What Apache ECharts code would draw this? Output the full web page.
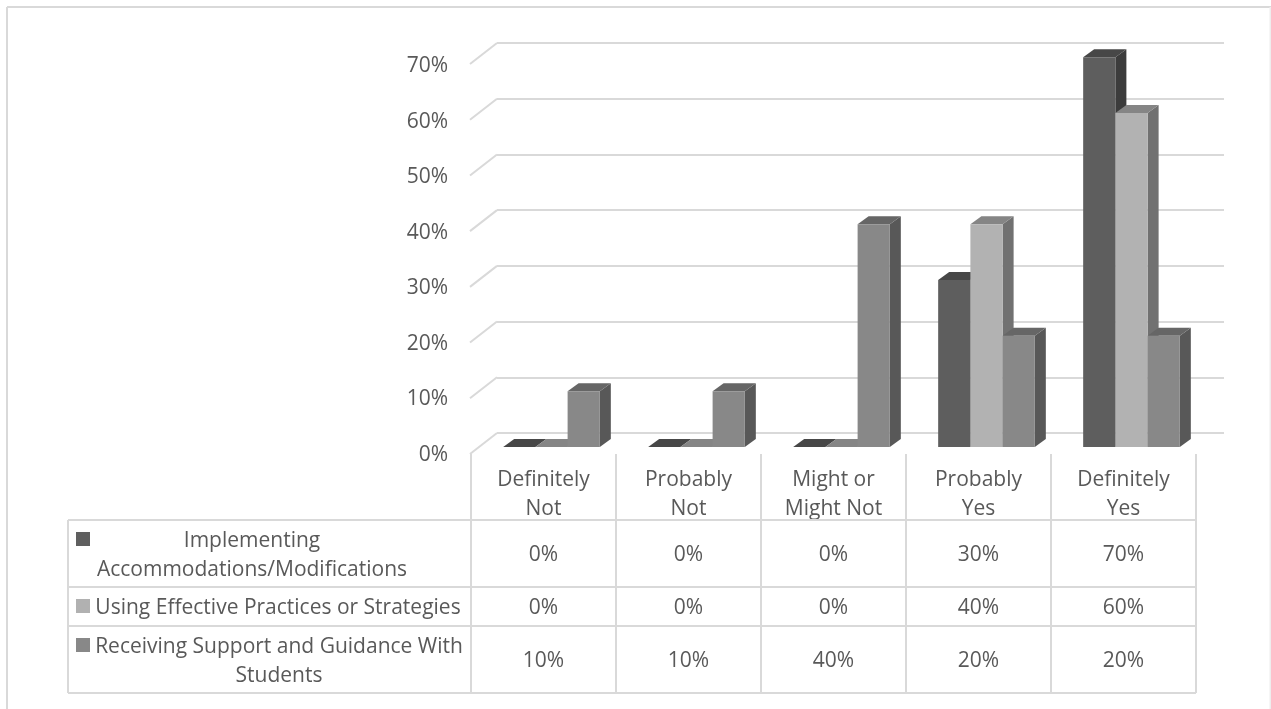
<!DOCTYPE html>
<html>
<head>
<meta charset="utf-8">
<style>html,body{margin:0;padding:0;background:#fff}#chart{width:1271px;height:709px}</style>
<script src="https://cdn.jsdelivr.net/npm/echarts@6/dist/echarts.min.js"></script>
</head>
<body>
<div id="chart"></div>
<script>
// Survey responses per statement, in percent.
const categories = ['Definitely\nNot', 'Probably\nNot', 'Might or\nMight Not', 'Probably\nYes', 'Definitely\nYes'];
const implementing = [0, 0, 0, 30, 70];
const usingPractices = [0, 0, 0, 40, 60];
const receivingSupport = [10, 10, 40, 20, 20];
const ticks = [0, 10, 20, 30, 40, 50, 60, 70];

const seriesRows = [
  { label: ['Implementing', 'Accommodations/Modifications'], labelX: 252, values: implementing,
    key: '#5f5f5f', front: '#5e5e5e', side: '#3c3c3c', top: '#474747' },
  { label: ['Using Effective Practices or Strategies'], labelX: 278, values: usingPractices,
    key: '#b1b1b1', front: '#b2b2b2', side: '#717171', top: '#858585' },
  { label: ['Receiving Support and Guidance With', 'Students'], labelX: 279, values: receivingSupport,
    key: '#888888', front: '#888888', side: '#585858', top: '#666666' }
];

const FONT = '"Open Sans", sans-serif';
const FONT_SIZE = 21;
const TEXT = '#595959';
const RULE = '#d9d9d9';
const DEPTH_X = 11, DEPTH_Y = 8;       // extrusion of each bar
const WALL_X = 27, WALL_Y = 21;        // side wall of the plot box

// Three-faced column: front, right side and top.
function barRenderer(row, seriesIndex) {
  return function (params, api) {
    const band = api.size([1, 0])[0];
    const w = band / 4.5;
    const cat = api.value(0);
    const top = api.coord([cat, api.value(1)]);
    const base = api.coord([cat, 0]);
    const x = top[0] - 1.5 * w + seriesIndex * w;
    const yT = top[1], yB = base[1];
    const children = [];
    children.push({ type: 'polygon', shape: { points: [
      [x + w, yT], [x + w + DEPTH_X, yT - DEPTH_Y], [x + w + DEPTH_X, yB - DEPTH_Y], [x + w, yB]
    ] }, style: { fill: row.side } });
    children.push({ type: 'polygon', shape: { points: [
      [x, yT], [x + DEPTH_X, yT - DEPTH_Y], [x + w + DEPTH_X, yT - DEPTH_Y], [x + w, yT]
    ] }, style: { fill: row.top } });
    if (yB - yT > 0) {
      children.push({ type: 'rect', shape: { x: x, y: yT, width: w, height: yB - yT },
        style: { fill: row.front } });
    }
    return { type: 'group', children: children };
  };
}

// Diagonal gridline running from the back wall towards the value labels.
function wallRenderer(params, api) {
  const p = api.coord([0, api.value(0)]);
  return { type: 'line',
    shape: { x1: p[0], y1: p[1], x2: p[0] - WALL_X, y2: p[1] + WALL_Y },
    style: { stroke: RULE, lineWidth: 2 } };
}

// Table geometry
const colEdges = [471, 616, 761, 906, 1051, 1196];
const tableLeft = 68;
const tableTop = 520;
const rowEdges = [520, 587, 626, 693];
const headerTop = 454;
const rowLineHeight = 29;
const textDrop = 2;                    // optical centring of text inside a cell

const graphics = [];
function rule(x1, y1, x2, y2, color) {
  graphics.push({ type: 'line', silent: true, z: 1,
    shape: { x1: x1, y1: y1, x2: x2, y2: y2 },
    style: { stroke: color || RULE, lineWidth: 2 } });
}
function label(text, x, y, align) {
  graphics.push({ type: 'text', silent: true, z: 3, x: x, y: y + textDrop,
    style: { text: text, fill: TEXT, font: FONT_SIZE + 'px ' + FONT, textAlign: align, textVerticalAlign: 'middle' } });
}

// Outer frame: open along the bottom edge, faint on the right
rule(7, 7, 1271, 7);
rule(7, 7, 7, 709);
rule(1270.5, 7, 1270.5, 709, '#eeeeee');

rowEdges.forEach(function (y) { rule(tableLeft, y, colEdges[5], y); });
rule(tableLeft, tableTop, tableLeft, rowEdges[3]);
colEdges.forEach(function (x) { rule(x, headerTop, x, rowEdges[3]); });

seriesRows.forEach(function (row, r) {
  const mid = (rowEdges[r] + rowEdges[r + 1]) / 2;
  graphics.push({ type: 'rect', silent: true, z: 3,
    shape: { x: 76, y: row.label.length > 1 ? rowEdges[r] + 12 : mid - 7.5, width: 14, height: 14 },
    style: { fill: row.key } });
  const startY = mid - (row.label.length - 1) * rowLineHeight / 2;
  row.label.forEach(function (line, i) {
    label(line, row.labelX, startY + i * rowLineHeight, 'center');
  });
  row.values.forEach(function (v, c) {
    label(v + '%', (colEdges[c] + colEdges[c + 1]) / 2, mid, 'center');
  });
});

const chart = echarts.init(document.getElementById('chart'), null, { renderer: 'canvas' });
chart.setOption({
  animation: false,
  backgroundColor: '#ffffff',
  grid: [
    { left: 497, top: 43, width: 727, height: 390 },   // back wall
    { left: 479, top: 57.3, width: 725, height: 389.7 }, // columns
    { left: 471, top: 66, width: 725, height: 389 }    // value labels and category labels
  ],
  xAxis: [
    { type: 'value', gridIndex: 0, min: 0, max: 1, show: false },
    { type: 'category', gridIndex: 1, data: categories, show: false },
    { type: 'category', gridIndex: 2, data: categories, position: 'bottom',
      axisLine: { show: false }, axisTick: { show: false },
      axisLabel: { color: TEXT, fontFamily: FONT, fontSize: FONT_SIZE, lineHeight: 29, margin: 11, interval: 0 } }
  ],
  yAxis: [
    { type: 'value', gridIndex: 0, min: 0, max: 70, interval: 10,
      axisLine: { show: false }, axisTick: { show: false }, axisLabel: { show: false },
      splitLine: { lineStyle: { color: RULE, width: 2 } } },
    { type: 'value', gridIndex: 1, min: 0, max: 70, interval: 10, show: false },
    { type: 'value', gridIndex: 2, min: 0, max: 70, interval: 10,
      axisLine: { show: false }, axisTick: { show: false }, splitLine: { show: false },
      axisLabel: { color: TEXT, fontFamily: FONT, fontSize: FONT_SIZE, margin: 23,
        formatter: function (v) { return v + '%'; } } }
  ],
  series: [
    { type: 'custom', xAxisIndex: 0, yAxisIndex: 0, z: 2, silent: true,
      data: ticks.map(function (t) { return [t]; }),
      encode: { y: 0 }, renderItem: wallRenderer }
  ].concat(seriesRows.map(function (row, i) {
    return { type: 'custom', name: row.label.join(' '), xAxisIndex: 1, yAxisIndex: 1, z: 3 + i, silent: true,
      data: row.values.map(function (v, c) { return [c, v]; }),
      encode: { x: 0, y: 1 }, renderItem: barRenderer(row, i) };
  })),
  graphic: graphics
});
</script>
</body>
</html>
